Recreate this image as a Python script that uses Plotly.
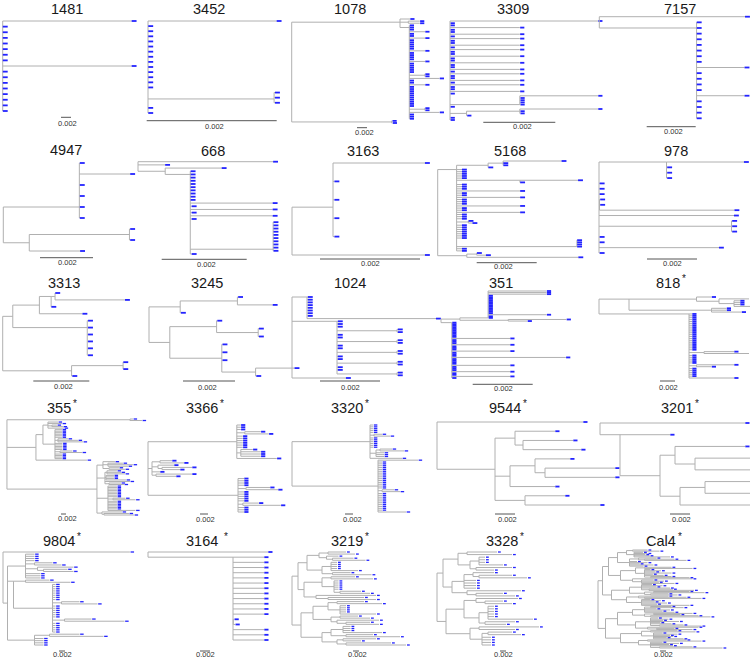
import re
import plotly.graph_objects as go

W, H = 750, 658
UNIT = 1e-4      # Newick branch lengths below are in units of 1e-4 substitutions/site
BAR = 0.002      # scale bar length (substitutions/site)
GRAY = "rgb(176,176,176)"
BLUE = "rgb(35,35,255)"
BARC = "rgb(85,85,85)"
FONT = "Liberation Sans, Arial, sans-serif"
TITLE_SIZE = 14.5

titles = ["1481", "3452", "1078", "3309", "7157",
          "4947", "668", "3163", "5168", "978",
          "3313", "3245", "1024", "351", "818",
          "355", "3366", "3320", "9544", "3201",
          "9804", "3164 ", "3219", "3328", "Cal4"]
starred = [False] * 14 + [True] * 11

# Tree topologies with branch lengths (xN = N sibling tips with the same length; @k = node drawn at child k)
tree_1481 = "(L:258,x7:0.3,L:258,x8:0.3);"
tree_3452 = "(L:19.8,x13:0.05,(x3:0.15)@1.25:19.4,x2:0.05);"
tree_1078 = ("((t:20,(t:23,t:23):16.6,(x3:0.4,L:31.4,x2:0.4,L:31.4,x5:0.4,L:31.4,x4:0.4,L:31.4,x5:0.4,"
             "(x2:0.5):31,L:60.4,x2:0.4,L:31.4,x10:0.4,(x2:0.5):31,L:60.4,x3:0.4)@1:18.6)@1:216.6,(t:1,t:1.6):200);")
tree_3309 = ("(L:41.1,x2:0.1,M:19.4,x2:0.1,M:19.4,z:0.1,M:19.4,x2:0.1,M:19.4,z:0.1,M:19.4,x2:0.1,M:19.4,"
             "x2:0.1,M:19.4,x2:0.1,M:19.4,z:0.1,M:19.4,x2:0.1,M:19.4,z:0.1,M:19.4,x2:0.1,M:19.4,z:0.1,"
             "(L:21.7,x4:0.1)@4:19.4,z:0.1,((L:21.7,x2:0.1):14.8,z:0.1):4.6,x2:0.1);")
tree_7157 = "(L:59.5,(x8:0.1,L:19.6,x4:0.1,L:19.6,x4:0.1)@1:39.7);"
tree_4947 = "((t:0.2,L:19.2,t:0.2,t:0.2,t:0.2,t:0.2)@4:28.7,((t:0.3,t:0.3):37.8,t:19.2):9.8);"
tree_668 = ("(L:31.8,t:6.4,(t:13.3,(x10:0.1,L:19.4,t:0.35,L:19.4,t:0.35,L:19.4,t:0.35,"
            "(x10:0.1)@8.5:19.5,t:0.35)@1:5.9):6.4);")
tree_3163 = "((L:18.4,t:0.3,t:0.3,t:0.3,t:0.3)@2.4:8.2,L:26.6);"
tree_5168 = ("((((L:19.5,x2:0.1)@1:5,t:0.1)@0.5:10.5,x5:1.8,(L:19.4,t:0.1)@0:21.1,x3:1.8,T:21.2,x2:1.8,"
             "T:21.2,x3:1.8,T:21.2,x2:1.8,T:21.2,x3:1.8,(t:0.1,t:1.4):3.9,x7:1.8,(x4:0.1)@3:40.1,x2:1.8)@1:6.3,"
             "((t:0.1,t:3.1):3.3,L:37.2):9.7);")
tree_978 = "((L:31,x3:0.3)@0:27,x3:0.3,(x2:0.3,L:54):0.2,L:54,(x3:0.3):53,x2:0.3,L:48,t:0.3);"
tree_3313 = "(((((t:0.1,L:25):1.4,t:0.1)@0:4.2,t:15.4):9.5,(x6:0.3)@1:26.6):3.6,((x2:0.1):18.4,t:0.3):24.6);"
tree_3245 = "(((t:0.3,L:13.6):22,t:0.3):12,((t:0.3,(x2:0.3):16):18,(x3:0.3,(L:15,t:0.3):13):20):8);"
tree_1024 = ("((x8:0.3,L:43)@0:5,(x3:0.3,(x2:0.3):20,x2:0.3,(x2:0.3):20,x2:0.3,(x2:0.3):20,x2:0.3,"
             "(x2:0.3):20,x2:0.3,(x2:0.3):20)@0:15,t:18);")
tree_351 = ("(((L:19.5,L:19.5,L:19.5,x12:0.1,L:19.5,x2:0.1)@17:9.4,(L:19.4,t:6.4):16.1):6.3,"
            "(x10:0.05,T:19.4,x3:0.05,T:19.4,x3:0.05,T:19.4,x3:0.05,L:38,x4:0.05,T:19.4,x3:0.05,"
            "T:19.4,x2:0.05,T:19.4,z:0.05)@0:3.6);")
tree_818 = ("(((t:20,(t:40,(x3:8,t:30):20):30):90,(x2:20,t:40):110)@0:40,"
            "(x20:4,(t:40,t:60):20,x5:4,(t:50,t:20):10,x5:4,t:60)@0:120);")
tree_355 = ("((t:12,t:48):492,(((t:40,t:56,(t:20,t:44):16,t:64):20,(x6:28,(t:40,t:80,t:100):12,x5:30,"
            "(t:50,t:88):20,x4:28):48):28,t:204):116,((t:48,(t:60,t:100,t:80):20,(t:40,t:64):24):24,"
            "((t:40,t:56,t:72):8,(x3:32,t:80):4,t:100,(t:48,t:60):16):32,(x8:36,(t:50,t:90):20,x6:36,t:110):44,"
            "(t:80,(t:100,t:120):8):20):360):21);")
tree_3366 = ("((x3:10,(t:40,t:60):20,x6:15,(t:30,x3:50):10,t:100):222,((t:30,t:60):20,(t:40,(t:75,t:45):10):15,"
             "t:20,(t:90,t:50):10):10,(x4:15,(t:60,t:80):20,x5:15,(t:40,t:95):12,x3:15):225);")
tree_3320 = ("((x5:8,(t:20,t:40):10,x6:8,((t:30,t:60):10,x3:20):15,t:80):195,"
             "(L:100,x15:10,(t:30,t:45):10,x10:10,t:70):215);")
tree_9544 = "(L:146,((t:40,(t:50,t:58):8):20,((t:35,(t:70,t:70):10):25,t:45):15,(t:40,t:75):30):58);"
tree_3201 = "(L:145,(t:50,((t:70,(t:95,t:120):20):15,((t:110,t:130):25,t:85):20):40)@0:20);"
tree_9804 = ("(L:423,((x4:30,(t:60,t:90):30,(t:120,(t:80,t:100):20):40,x3:50):60,((t:80,t:150):40,"
             "(x8:10,(t:60,t:120):30,x6:10,(t:90,t:200):40,x5:10):130)@0:20,((t:100,t:180):50,x4:30):90):15);")
tree_3164 = "(L:240,(x12:62,(t:2,t:4):0.5,x3:62)@0:170);"
tree_3219 = ("(((((t:60,t:90):30,(t:40,(t:70,t:110):20):25):40,((x4:20,t:90):30,(t:60,t:130):35):50):30,"
             "(((t:80,t:140):30,(x5:15,(t:70,t:100):20):40):60,(t:200,(t:120,t:160):40):40):20):20,"
             "((((t:90,t:150):30,(x4:20,t:120):40):50,((t:60,t:100):30,(t:140,(t:80,t:110):30):20):60):40,"
             "(((x3:25,t:130):40,(t:90,t:180):50):30,((t:110,t:60):20,(t:150,t:200):30):50):70):30);")
tree_3328 = ("((((t:100,t:150):30,((x3:20,t:80):30,(t:120,t:60):20):40):50,(((t:70,(t:110,t:160):20):30,x4:40):40,"
             "(t:180,(t:90,t:130):30):50):30):20,(((t:140,(t:60,t:90):30):40,((x5:20,t:150):30,(t:100,t:70):20):50):60,"
             "((t:200,t:120):30,((t:80,t:110):20,x4:30):40):80):30);")
tree_cal4 = ("((((((t:50,t:90):20,(t:30,t:45,t:38,t:52,t:120):25):30,((t:60,(t:100,t:140):20):30,t:25,t:60,t:34,t:80,t:47):40):30,"
             "(((t:90,t:160):30,(t:20,t:55,t:36,t:90,t:28,t:64,(t:70,t:130):20):30):50,(t:200,(t:40,t:75,t:58,t:110):30):40):40):20,"
             "(((t:35,t:70,t:50,t:95,(t:80,t:150):25):40,((t:120,t:170):30,(t:60,t:90):20):50):60,((t:100,(t:140,t:190):20):40,"
             "(t:30,t:65,t:44,t:85,t:52,t:160):50):50):30):15,(((((t:70,t:110):20,t:40,t:85,t:60,t:100):40,((t:130,t:90):30,(t:160,t:200):20):40):50,"
             "((t:25,t:60,t:42,t:95,t:33,t:70,(t:80,t:140):30):50,(t:170,(t:60,t:120):30):40):60):40,(((t:90,t:150):30,(t:30,t:80,t:55,t:66,t:44,t:100):40):70,"
             "((t:130,t:180):30,(t:40,t:95,t:62,t:75,(t:110,t:210):30):40):60):50):25);")

newicks = [tree_1481, tree_3452, tree_1078, tree_3309, tree_7157,
           tree_4947, tree_668, tree_3163, tree_5168, tree_978,
           tree_3313, tree_3245, tree_1024, tree_351, tree_818,
           tree_355, tree_3366, tree_3320, tree_9544, tree_3201,
           tree_9804, tree_3164, tree_3219, tree_3328, tree_cal4]

# ---- placement (pixels): root x, pixels per unit, first/last tip y, title, bar start, bar label
root_px = [2.7, 148, 291.7, 450, 599.3,
           3.3, 138, 292, 437.7, 599,
           2.7, 149, 292, 441, 599,
           1.7, 148, 292, 437, 600,
           3, 148, 292, 437, 598]
px_per_unit = [0.5, 6.5, 0.5, 3.6, 2.45,
               2.65, 4.25, 5.0, 3.0, 2.5,
               2.8, 2.6, 3.0, 3.0, 0.75,
               0.25, 0.4, 0.4, 1.0, 1.0,
               0.3, 0.5, 0.3, 0.3, 0.3]
tip_top = [21, 21, 19, 21, 16.7,
           163, 161.7, 163, 161, 162,
           293, 297, 297, 291, 297,
           419, 425, 425, 422, 423,
           552, 552, 552, 552, 550]
tip_bot = [111, 113, 123, 120, 118.3,
           251, 254, 255, 257.3, 253,
           376, 376, 378, 378, 378,
           515, 512, 512, 505, 505,
           645, 640, 645, 645, 648]
title_pos = [(67, 9), (209, 9), (350, 9), (513, 9), (680, 9),
             (66, 150), (213, 151), (363, 151), (510, 151), (676, 151),
             (64, 283), (207, 283), (350, 283), (501, 283), (668, 283),
             (59, 408), (202, 408), (347, 408), (505, 408), (677, 408),
             (59, 541), (204, 541), (347, 541), (502, 541), (661, 541)]
bar_pos = [(61, 117.3), (146.7, 120.7), (357, 127.7), (483.3, 122.3), (646.7, 126.7),
           (40, 257.7), (161.7, 259.3), (320, 259), (476.7, 262.7), (647, 259),
           (33.3, 381), (183, 381), (320, 381), (472.7, 384.3), (660, 381),
           (61, 514), (200, 514), (345, 514), (495, 514), (670, 514),
           (59, 651), (200, 651), (353, 651), (500, 651), (660, 651)]
label_pos = [(67, 123.3), (214, 126.7), (364, 132.3), (522, 126.7), (673.3, 131),
             (67.7, 262.3), (206.7, 264.3), (370, 264), (503.3, 266.7), (672, 264),
             (63.3, 386.7), (207, 387), (350, 387), (503.3, 388.3), (668, 387),
             (67, 518.5), (205, 519), (352, 519), (507, 519), (681, 519),
             (62, 654.5), (205, 654.5), (357, 654.5), (503, 654.5), (663, 654.5)]
tip_size = [3.5, 3.5, 3, 3, 3.5,
            3.5, 3.5, 3.5, 3.5, 3.5,
            3.5, 3.5, 3.5, 3, 3,
            2.5, 3, 2.5, 3, 3,
            2.5, 3, 2, 2, 2]

# approximate Arial advance widths (em) for centring the superscript asterisk
CHAR_EM = {'C': 0.722, 'a': 0.556, 'l': 0.222, ' ': 0.278}


def parse_newick(s):
    s = s.strip().rstrip(';')
    pos = 0

    def node():
        nonlocal pos
        kids = []
        if s[pos] == '(':
            pos += 1
            while True:
                kids.extend(node())
                ch = s[pos]
                pos += 1
                if ch == ')':
                    break
        m = re.match(r'[^:,();]*', s[pos:])
        label = m.group(0)
        pos += len(label)
        length = 0.0
        if pos < len(s) and s[pos] == ':':
            pos += 1
            m = re.match(r'[0-9.eE+-]+', s[pos:])
            length = float(m.group(0))
            pos += len(m.group(0))
        if not kids:
            m = re.fullmatch(r'x(\d+)', label)
            n = int(m.group(1)) if m else 1
            return [{'kids': [], 'len': length, 'label': label} for _ in range(n)]
        return [{'kids': kids, 'len': length, 'label': label}]

    return node()[0]


def tree_layout(root):
    sx, sy, tx, ty = [], [], [], []
    count = [0]

    def rec(nd, xpar, is_root):
        x = xpar + nd['len'] * UNIT
        if not nd['kids']:
            y = float(count[0])
            count[0] += 1
            tx.append(x)
            ty.append(y)
        else:
            ys = [rec(c, x, False) for c in nd['kids']]
            lab = nd['label']
            if lab.startswith('@'):
                f = float(lab[1:])
                k = min(int(f), len(ys) - 1)
                k2 = min(k + 1, len(ys) - 1)
                y = ys[k] + (ys[k2] - ys[k]) * (f - k)
            else:
                y = (ys[0] + ys[-1]) / 2
            sx.extend([x, x, None])
            sy.extend([ys[0], ys[-1], None])
        if not is_root:
            sx.extend([xpar, x, None])
            sy.extend([y, y, None])
        return y

    rec(root, 0.0, True)
    return sx, sy, tx, ty, count[0]


fig = go.Figure()
axes = {}
annotations = []
for k in range(len(newicks)):
    root = parse_newick(newicks[k])
    sx, sy, tx, ty, n = tree_layout(root)
    ppu = px_per_unit[k]
    x0 = root_px[k]
    tt, tb = tip_top[k], tip_bot[k]
    sp = (tb - tt) / (n - 1)
    dpp = UNIT / ppu  # data units per pixel
    suf = '' if k == 0 else str(k + 1)
    xa, ya = 'x' + suf, 'y' + suf
    common = dict(xaxis=xa, yaxis=ya, hoverinfo='skip', showlegend=False, cliponaxis=False)
    fig.add_trace(go.Scatter(x=sx, y=sy, mode='lines', line=dict(color=GRAY, width=1), **common))
    fig.add_trace(go.Scatter(x=[v + 2.4 * dpp for v in tx], y=ty, mode='markers',
                             marker=dict(symbol='line-ew', size=tip_size[k],
                                         line=dict(width=1.8 if tip_size[k] >= 3 else 1.3, color=BLUE)),
                             **common))
    bx = (bar_pos[k][0] - x0) * dpp
    by = (bar_pos[k][1] - tt) / sp
    fig.add_trace(go.Scatter(x=[bx, bx + BAR], y=[by, by], mode='lines',
                             line=dict(color=BARC, width=1), **common))
    axes['xaxis' + suf] = dict(domain=[0, 1], range=[(0 - x0) * dpp, (W - x0) * dpp],
                               visible=False, anchor=ya, fixedrange=True)
    axes['yaxis' + suf] = dict(domain=[0, 1], range=[(H - tt) / sp, (0 - tt) / sp],
                               visible=False, anchor=xa, fixedrange=True)
    cx, cy = title_pos[k]
    annotations.append(dict(text=titles[k], x=cx / W, y=1 - cy / H,
                            xref='paper', yref='paper', showarrow=False, xanchor='center', yanchor='middle',
                            font=dict(family=FONT, size=TITLE_SIZE, color='rgb(25,25,25)')))
    if starred[k]:
        half_w = sum(CHAR_EM.get(c, 0.556) for c in titles[k]) * TITLE_SIZE / 2
        annotations.append(dict(text="*", x=(cx + half_w + 0.3) / W, y=1 - (cy - 5) / H,
                                xref='paper', yref='paper', showarrow=False, xanchor='left',
                                yanchor='middle',
                                font=dict(family=FONT, size=10, color='rgb(25,25,25)')))
    annotations.append(dict(text="0.002", x=label_pos[k][0] / W, y=1 - label_pos[k][1] / H,
                            xref='paper', yref='paper', showarrow=False, xanchor='center', yanchor='middle',
                            font=dict(family=FONT, size=7.5, color='rgb(50,50,50)')))

fig.update_layout(width=W, height=H, margin=dict(l=0, r=0, t=0, b=0),
                  paper_bgcolor='white', plot_bgcolor='rgba(0,0,0,0)',
                  annotations=annotations, **axes)
fig.write_html("out.html", config={'displayModeBar': False, 'staticPlot': True},
               post_script="document.body.style.margin='0px';document.body.style.padding='0px';")
